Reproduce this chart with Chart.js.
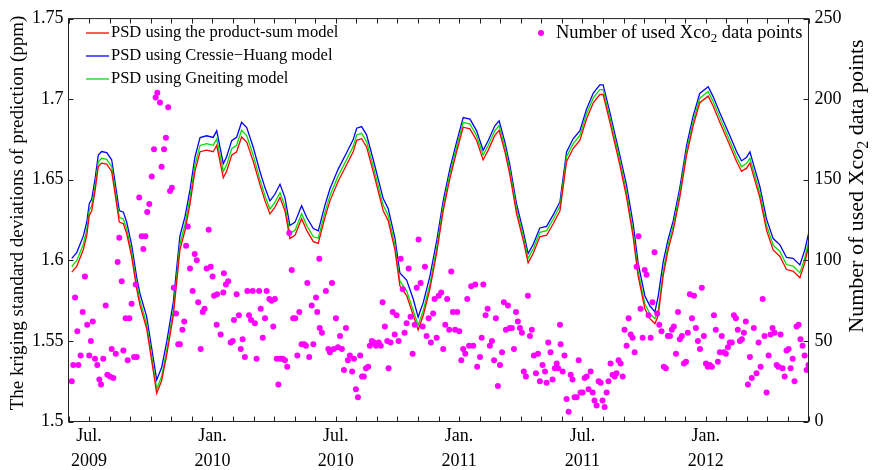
<!DOCTYPE html>
<html>
<head>
<meta charset="utf-8">
<script src="https://cdn.jsdelivr.net/npm/chart.js@4.4.1/dist/chart.umd.min.js"></script>
<style>
  html, body { margin: 0; padding: 0; background: #fff; }
  #wrap { width: 872px; height: 470px; }
</style>
</head>
<body>
<div id="wrap"><canvas id="psdChart" width="872" height="470"></canvas></div>
<script>
// x values are months counted from 1 Jun 2009 (0) to 1 Jun 2012 (36)
const lineMonths = [
    0.16, 0.40, 0.72, 0.89, 1.01, 1.13, 1.29, 1.45, 1.61, 1.86, 2.10, 2.34, 2.47, 2.67, 2.83, 3.07,
    3.32, 3.48, 3.80, 4.05, 4.29, 4.53, 4.78, 5.10, 5.42, 5.67, 5.91, 6.15, 6.40, 6.72, 7.04, 7.21,
    7.37, 7.53, 7.69, 7.94, 8.18, 8.42, 8.67, 8.99, 9.31, 9.56, 9.80, 10.04, 10.29, 10.53, 10.77, 11.02,
    11.34, 11.59, 11.91, 12.15, 12.48, 12.72, 13.12, 13.53, 13.85, 14.02, 14.26, 14.50, 14.82, 15.31, 15.55, 15.88,
    16.12, 16.45, 16.77, 17.01, 17.26, 17.58, 17.91, 18.23, 18.56, 18.88, 19.20, 19.53, 19.85, 20.17, 20.42, 20.74,
    20.95, 21.23, 21.47, 21.80, 22.12, 22.36, 22.61, 22.93, 23.26, 23.58, 23.91, 24.23, 24.55, 24.88, 25.20, 25.53,
    25.85, 26.01, 26.34, 26.82, 27.15, 27.47, 27.71, 28.04, 28.28, 28.53, 28.69, 28.93, 29.17, 29.42, 29.74, 30.07,
    30.39, 30.71, 31.12, 31.36, 31.69, 32.17, 32.50, 32.74, 32.99, 33.15, 33.31, 33.63, 33.96, 34.28, 34.61, 34.93,
    35.25, 35.58, 35.82, 36.00
];
const psdProductSum = [
    1.5927, 1.5963, 1.6065, 1.6156, 1.6278, 1.6308, 1.6430, 1.6582, 1.6603, 1.6597, 1.6552, 1.6349, 1.6237, 1.6227, 1.6166, 1.6024,
    1.5821, 1.5720, 1.5577, 1.5375, 1.5175, 1.5253, 1.5415, 1.5659, 1.6065, 1.6186, 1.6349, 1.6552, 1.6674, 1.6684, 1.6674, 1.6714,
    1.6613, 1.6512, 1.6552, 1.6653, 1.6674, 1.6765, 1.6734, 1.6613, 1.6471, 1.6369, 1.6288, 1.6329, 1.6390, 1.6308, 1.6136, 1.6156,
    1.6258, 1.6186, 1.6116, 1.6105, 1.6268, 1.6369, 1.6491, 1.6593, 1.6674, 1.6745, 1.6755, 1.6704, 1.6552, 1.6308, 1.6247, 1.6065,
    1.5842, 1.5781, 1.5659, 1.5568, 1.5659, 1.5821, 1.6044, 1.6308, 1.6512, 1.6674, 1.6826, 1.6816, 1.6745, 1.6623, 1.6684, 1.6775,
    1.6806, 1.6674, 1.6532, 1.6288, 1.6125, 1.5984, 1.6044, 1.6146, 1.6156, 1.6227, 1.6308, 1.6613, 1.6694, 1.6745, 1.6877, 1.6978,
    1.7029, 1.7029, 1.6856, 1.6593, 1.6390, 1.6146, 1.5903, 1.5699, 1.5638, 1.5608, 1.5659, 1.5903, 1.6065, 1.6186, 1.6390, 1.6653,
    1.6836, 1.6978, 1.7019, 1.6958, 1.6856, 1.6714, 1.6613, 1.6552, 1.6572, 1.6603, 1.6532, 1.6390, 1.6186, 1.6065, 1.6024, 1.5943,
    1.5933, 1.5892, 1.5984, 1.6085
];
const psdCressieHuang = [
    1.6012, 1.6048, 1.6150, 1.6238, 1.6352, 1.6380, 1.6502, 1.6654, 1.6675, 1.6669, 1.6624, 1.6421, 1.6309, 1.6299, 1.6238, 1.6096,
    1.5893, 1.5792, 1.5652, 1.5453, 1.5258, 1.5335, 1.5495, 1.5742, 1.6150, 1.6273, 1.6437, 1.6640, 1.6762, 1.6773, 1.6763, 1.6804,
    1.6702, 1.6600, 1.6641, 1.6743, 1.6764, 1.6857, 1.6824, 1.6700, 1.6553, 1.6450, 1.6369, 1.6410, 1.6472, 1.6389, 1.6216, 1.6237,
    1.6339, 1.6266, 1.6197, 1.6183, 1.6344, 1.6444, 1.6566, 1.6668, 1.6749, 1.6820, 1.6830, 1.6779, 1.6627, 1.6383, 1.6322, 1.6140,
    1.5922, 1.5878, 1.5760, 1.5648, 1.5739, 1.5901, 1.6120, 1.6370, 1.6572, 1.6734, 1.6886, 1.6876, 1.6805, 1.6683, 1.6744, 1.6835,
    1.6866, 1.6734, 1.6592, 1.6348, 1.6183, 1.6042, 1.6100, 1.6201, 1.6211, 1.6282, 1.6364, 1.6673, 1.6754, 1.6805, 1.6937, 1.7038,
    1.7089, 1.7089, 1.6916, 1.6653, 1.6465, 1.6226, 1.5983, 1.5779, 1.5718, 1.5680, 1.5779, 1.5990, 1.6130, 1.6246, 1.6450, 1.6713,
    1.6896, 1.7036, 1.7077, 1.7016, 1.6914, 1.6774, 1.6675, 1.6617, 1.6640, 1.6673, 1.6602, 1.6460, 1.6256, 1.6135, 1.6096, 1.6018,
    1.6013, 1.5972, 1.6064, 1.6165
];
const psdGneiting = [
    1.5962, 1.5998, 1.6100, 1.6190, 1.6310, 1.6338, 1.6460, 1.6612, 1.6633, 1.6627, 1.6582, 1.6379, 1.6267, 1.6257, 1.6196, 1.6054,
    1.5851, 1.5750, 1.5605, 1.5402, 1.5202, 1.5280, 1.5443, 1.5690, 1.6100, 1.6224, 1.6388, 1.6591, 1.6713, 1.6724, 1.6714, 1.6754,
    1.6652, 1.6551, 1.6591, 1.6693, 1.6714, 1.6807, 1.6774, 1.6650, 1.6502, 1.6400, 1.6318, 1.6359, 1.6421, 1.6338, 1.6166, 1.6186,
    1.6289, 1.6216, 1.6146, 1.6137, 1.6301, 1.6402, 1.6524, 1.6626, 1.6707, 1.6778, 1.6788, 1.6737, 1.6585, 1.6341, 1.6280, 1.6098,
    1.5872, 1.5811, 1.5689, 1.5598, 1.5689, 1.5851, 1.6074, 1.6338, 1.6542, 1.6704, 1.6856, 1.6846, 1.6775, 1.6653, 1.6714, 1.6805,
    1.6836, 1.6704, 1.6562, 1.6318, 1.6153, 1.6012, 1.6072, 1.6174, 1.6184, 1.6255, 1.6337, 1.6643, 1.6724, 1.6775, 1.6907, 1.7008,
    1.7059, 1.7059, 1.6886, 1.6623, 1.6420, 1.6176, 1.5933, 1.5729, 1.5668, 1.5638, 1.5689, 1.5933, 1.6095, 1.6214, 1.6418, 1.6681,
    1.6864, 1.7006, 1.7047, 1.6986, 1.6884, 1.6742, 1.6641, 1.6581, 1.6602, 1.6633, 1.6562, 1.6420, 1.6216, 1.6095, 1.6054, 1.5974,
    1.5964, 1.5922, 1.6014, 1.6115
];

// number of used Xco2 data points (right axis)
const countMonths = [
    0.16, 0.23, 0.32, 0.43, 0.48, 0.59, 0.69, 0.80, 0.91, 1.01, 1.09, 1.18, 1.29, 1.40, 1.50, 1.58,
    1.69, 1.81, 1.89, 2.02, 2.10, 2.18, 2.30, 2.39, 2.47, 2.59, 2.67, 2.78, 2.88, 2.96, 3.07, 3.19,
    3.27, 3.32, 3.44, 3.56, 3.64, 3.74, 3.83, 3.93, 4.05, 4.16, 4.24, 4.32, 4.45, 4.53, 4.65, 4.74,
    4.85, 4.94, 5.03, 5.12, 5.23, 5.34, 5.42, 5.54, 5.63, 5.72, 5.80, 5.91, 6.04, 6.14, 6.24, 6.31,
    6.43, 6.53, 6.62, 6.72, 6.82, 6.92, 7.01, 7.08, 7.21, 7.23, 7.40, 7.53, 7.56, 7.66, 7.77, 7.89,
    7.99, 8.05, 8.18, 8.29, 8.38, 8.47, 8.58, 8.70, 8.78, 8.88, 8.96, 9.07, 9.15, 9.27, 9.35, 9.45,
    9.56, 9.64, 9.77, 9.88, 9.96, 10.04, 10.13, 10.21, 10.29, 10.42, 10.53, 10.64, 10.74, 10.86, 10.93, 11.03,
    11.13, 11.23, 11.34, 11.47, 11.55, 11.62, 11.71, 11.83, 11.91, 12.04, 12.10, 12.20, 12.22, 12.33, 12.52, 12.64,
    12.72, 12.82, 12.91, 13.01, 13.11, 13.21, 13.30, 13.40, 13.50, 13.59, 13.69, 13.80, 13.89, 13.98, 14.08, 14.19,
    14.28, 14.37, 14.47, 14.58, 14.66, 14.76, 14.86, 14.96, 15.09, 15.19, 15.28, 15.39, 15.51, 15.57, 15.67, 15.77,
    15.87, 15.96, 16.06, 16.16, 16.26, 16.35, 16.45, 16.55, 16.64, 16.74, 16.84, 16.94, 17.03, 17.13, 17.23, 17.34,
    17.42, 17.52, 17.63, 17.74, 17.81, 17.91, 18.01, 18.13, 18.23, 18.33, 18.42, 18.52, 18.62, 18.70, 18.81, 18.91,
    19.01, 19.11, 19.20, 19.30, 19.40, 19.49, 19.59, 19.69, 19.79, 19.88, 20.02, 20.10, 20.18, 20.29, 20.39, 20.50,
    20.60, 20.70, 20.79, 20.89, 20.99, 21.09, 21.18, 21.28, 21.38, 21.47, 21.57, 21.67, 21.77, 21.86, 21.96, 22.06,
    22.15, 22.25, 22.35, 22.45, 22.54, 22.64, 22.74, 22.84, 22.93, 23.06, 23.18, 23.26, 23.34, 23.45, 23.55, 23.66,
    23.75, 23.82, 23.91, 23.94, 24.04, 24.13, 24.23, 24.33, 24.43, 24.52, 24.62, 24.72, 24.82, 24.91, 25.01, 25.11,
    25.21, 25.30, 25.40, 25.50, 25.59, 25.69, 25.79, 25.89, 25.98, 26.08, 26.18, 26.27, 26.37, 26.47, 26.57, 26.66,
    26.76, 26.86, 26.96, 27.05, 27.15, 27.25, 27.35, 27.44, 27.54, 27.64, 27.73, 27.83, 27.93, 28.03, 28.12, 28.22,
    28.32, 28.41, 28.51, 28.64, 28.74, 28.85, 28.96, 29.06, 29.16, 29.26, 29.35, 29.45, 29.55, 29.65, 29.74, 29.84,
    29.94, 30.04, 30.13, 30.23, 30.33, 30.43, 30.52, 30.62, 30.72, 30.81, 30.91, 31.01, 31.10, 31.20, 31.30, 31.40,
    31.49, 31.59, 31.69, 31.78, 31.88, 31.98, 32.08, 32.17, 32.27, 32.37, 32.47, 32.56, 32.66, 32.76, 32.86, 32.95,
    33.05, 33.15, 33.24, 33.34, 33.47, 33.57, 33.67, 33.77, 33.86, 33.96, 34.06, 34.15, 34.25, 34.35, 34.45, 34.54,
    34.64, 34.74, 34.84, 34.93, 35.03, 35.13, 35.23, 35.32, 35.42, 35.52, 35.61, 35.71, 35.81, 35.91, 36.00
];
const countValues = [
    25, 35, 77, 56, 35, 41, 68, 90, 60, 41, 50, 62, 39, 35, 26, 23,
    39, 72, 29, 28, 45, 27, 42, 99, 114, 87, 44, 64, 38, 64, 73, 40,
    85, 40, 139, 115, 107, 115, 130, 135, 152, 169, 201, 204, 198, 158, 169, 176,
    195, 143, 145, 83, 67, 48, 48, 57, 62, 109, 121, 95, 81, 104, 100, 74,
    45, 68, 70, 95, 119, 96, 90, 78, 60, 79, 54, 80, 92, 85, 87, 49,
    50, 63, 79, 66, 45, 51, 40, 81, 66, 63, 81, 61, 39, 81, 70, 52,
    64, 81, 76, 75, 59, 76, 39, 23, 39, 39, 38, 34, 117, 94, 64, 64,
    41, 68, 48, 48, 47, 86, 40, 72, 48, 77, 68, 101, 58, 55, 81, 45,
    43, 86, 45, 64, 46, 53, 45, 32, 58, 38, 41, 31, 39, 20, 15, 41,
    28, 28, 33, 34, 47, 50, 49, 47, 49, 47, 74, 59, 50, 33, 49, 68,
    54, 66, 50, 101, 82, 55, 61, 95, 65, 42, 60, 83, 113, 86, 59, 96,
    53, 64, 49, 67, 76, 52, 78, 80, 45, 60, 76, 57, 93, 68, 57, 68,
    56, 38, 45, 42, 76, 47, 84, 47, 85, 34, 40, 52, 85, 66, 70, 47,
    50, 38, 64, 22, 35, 43, 74, 57, 72, 58, 58, 45, 68, 62, 58, 55,
    31, 28, 78, 53, 57, 41, 30, 42, 25, 35, 31, 24, 49, 43, 26, 33,
    36, 33, 60, 48, 31, 41, 14, 6, 29, 26, 15, 15, 38, 18, 18, 27,
    28, 20, 31, 18, 13, 10, 25, 24, 13, 9, 18, 25, 36, 29, 28, 30,
    38, 36, 28, 57, 47, 64, 54, 52, 43, 96, 115, 70, 52, 94, 91, 66,
    52, 74, 105, 67, 60, 56, 34, 33, 53, 53, 57, 59, 42, 68, 51, 53,
    36, 37, 55, 79, 64, 78, 58, 50, 45, 83, 53, 36, 34, 35, 34, 66,
    57, 37, 43, 53, 43, 42, 46, 49, 49, 66, 64, 57, 50, 51, 55, 62,
    23, 40, 27, 58, 30, 49, 34, 76, 53, 18, 41, 54, 58, 55, 35, 34,
    54, 33, 28, 44, 45, 33, 39, 25, 59, 60, 51, 47, 41, 32, 35
];

const xLabelMonths = [1, 7, 13, 19, 25, 31];
const xLabelText = [['Jul.', '2009'], ['Jan.', '2010'], ['Jul.', '2010'], ['Jan.', '2011'], ['Jul.', '2011'], ['Jan.', '2012']];
const seriesNames = ['PSD using the product-sum model', 'PSD using Cressie\u2212Huang model', 'PSD using Gneiting model'];
const seriesColors = ['#ff0000', '#0000ff', '#00e000'];

const serif = '"Liberation Serif", "Times New Roman", serif';

function pairs(xs, ys) {
    return xs.map((x, i) => ({ x: x, y: ys[i] }));
}

// draws "text1" + subscript "2" + "text2" starting at x along the baseline
function subText(ctx, x, y, t1, sub, t2, size) {
    ctx.font = size + 'px ' + serif;
    ctx.fillText(t1, x, y);
    let w = ctx.measureText(t1).width;
    ctx.font = Math.round(size * 0.72) + 'px ' + serif;
    ctx.fillText(sub, x + w, y + size * 0.3);
    w += ctx.measureText(sub).width;
    ctx.font = size + 'px ' + serif;
    ctx.fillText(t2, x + w, y);
}
function subWidth(ctx, t1, sub, t2, size) {
    ctx.font = size + 'px ' + serif;
    let w = ctx.measureText(t1).width + ctx.measureText(t2).width;
    ctx.font = Math.round(size * 0.72) + 'px ' + serif;
    return w + ctx.measureText(sub).width;
}

const decor = {
    id: 'decor',
    afterDatasetsDraw(chart) {
        const { ctx, chartArea: a, scales } = chart;
        ctx.save();
        ctx.strokeStyle = '#222';
        ctx.lineWidth = 1;
        ctx.beginPath();
        // inward month ticks, bottom and top
        for (let m = 0; m <= 36; m++) {
            const px = Math.round(scales.x.getPixelForValue(m)) + 0.5;
            ctx.moveTo(px, a.bottom); ctx.lineTo(px, a.bottom - 5);
            ctx.moveTo(px, a.top); ctx.lineTo(px, a.top + 5);
        }
        scales.y.ticks.forEach(t => {
            const py = Math.round(scales.y.getPixelForValue(t.value)) + 0.5;
            ctx.moveTo(a.left, py); ctx.lineTo(a.left + 5, py);
        });
        scales.y2.ticks.forEach(t => {
            const py = Math.round(scales.y2.getPixelForValue(t.value)) + 0.5;
            ctx.moveTo(a.right, py); ctx.lineTo(a.right - 5, py);
        });
        ctx.stroke();
        ctx.strokeRect(a.left, a.top, a.right - a.left, a.bottom - a.top);
        ctx.restore();
    },
    afterDraw(chart) {
        const { ctx } = chart;
        ctx.save();
        ctx.fillStyle = '#000';
        ctx.textBaseline = 'middle';

        // left legend
        const rows = [33, 56, 79];
        ctx.font = '16.5px ' + serif;
        for (let i = 0; i < 3; i++) {
            ctx.strokeStyle = seriesColors[i];
            ctx.lineWidth = 1.3;
            ctx.beginPath();
            ctx.moveTo(86, rows[i]); ctx.lineTo(109, rows[i]);
            ctx.stroke();
            ctx.fillText(seriesNames[i], 111, rows[i]);
        }

        // right legend
        ctx.fillStyle = '#ff00ff';
        ctx.beginPath();
        ctx.arc(541, 33, 3, 0, Math.PI * 2);
        ctx.fill();
        ctx.fillStyle = '#000';
        subText(ctx, 556, 33, 'Number of used Xco', '2', ' data points', 18.5);

        // left axis title
        ctx.font = '19px ' + serif;
        ctx.textAlign = 'center';
        ctx.translate(18, 213);
        ctx.rotate(-Math.PI / 2);
        ctx.fillText('The kriging standard deviations of prediction (ppm)', 0, 0);
        ctx.setTransform(1, 0, 0, 1, 0, 0);

        // right axis title
        ctx.textAlign = 'left';
        const w = subWidth(ctx, 'Number of used Xco', '2', ' data points', 22);
        ctx.translate(857, 186);
        ctx.rotate(-Math.PI / 2);
        subText(ctx, -w / 2, 0, 'Number of used Xco', '2', ' data points', 22);
        ctx.restore();
    }
};

const tickFont = { family: serif, size: 18, lineHeight: 1.4 };

new Chart(document.getElementById('psdChart'), {
    type: 'scatter',
    data: {
        datasets: [
            {
                label: 'Number of used Xco2 data points',
                data: pairs(countMonths, countValues),
                yAxisID: 'y2',
                backgroundColor: '#ff00ff',
                borderWidth: 0,
                pointRadius: 3,
                order: 0
            },
            {
                label: seriesNames[0],
                data: pairs(lineMonths, psdProductSum),
                yAxisID: 'y',
                showLine: true,
                borderColor: seriesColors[0],
                borderWidth: 1.3,
                pointRadius: 0,
                order: 1
            },
            {
                label: seriesNames[2],
                data: pairs(lineMonths, psdGneiting),
                yAxisID: 'y',
                showLine: true,
                borderColor: seriesColors[2],
                borderWidth: 1.3,
                pointRadius: 0,
                order: 2
            },
            {
                label: seriesNames[1],
                data: pairs(lineMonths, psdCressieHuang),
                yAxisID: 'y',
                showLine: true,
                borderColor: seriesColors[1],
                borderWidth: 1.3,
                pointRadius: 0,
                order: 3
            }
        ]
    },
    options: {
        responsive: false,
        animation: false,
        devicePixelRatio: 1,
        layout: { padding: { top: 11, left: 0, right: 0, bottom: 0 } },
        plugins: {
            legend: { display: false },
            tooltip: { enabled: false }
        },
        scales: {
            x: {
                type: 'linear',
                min: 0,
                max: 36,
                grid: { display: false, drawTicks: false },
                border: { display: false },
                ticks: {
                    stepSize: 1,
                    autoSkip: false,
                    maxRotation: 0,
                    padding: 2,
                    color: '#000',
                    font: tickFont,
                    callback: v => {
                        const k = xLabelMonths.indexOf(v);
                        return k >= 0 ? xLabelText[k] : '';
                    }
                },
                afterFit: s => { s.height = 48.5; }
            },
            y: {
                position: 'left',
                min: 1.5,
                max: 1.75,
                grid: { display: false, drawTicks: false },
                border: { display: false },
                ticks: {
                    stepSize: 0.05,
                    padding: 5,
                    color: '#000',
                    font: tickFont,
                    callback: v => String(Number(v.toFixed(2)))
                },
                afterFit: s => { s.width = 68.5; }
            },
            y2: {
                position: 'right',
                min: 0,
                max: 250,
                grid: { display: false, drawTicks: false },
                border: { display: false },
                ticks: {
                    stepSize: 50,
                    padding: 6,
                    color: '#000',
                    font: tickFont
                },
                afterFit: s => { s.width = 63.5; }
            }
        }
    },
    plugins: [decor]
});
</script>
</body>
</html>
